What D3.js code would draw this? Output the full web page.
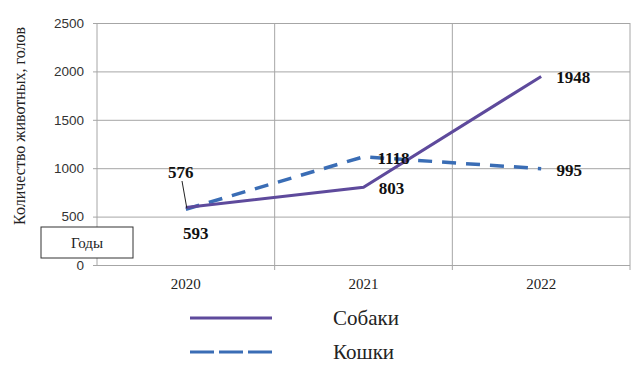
<!DOCTYPE html>
<html>
<head>
<meta charset="utf-8">
<script src="https://cdn.jsdelivr.net/npm/d3@7"></script>
<style>
  body { margin: 0; background: #fff; }
  svg { display: block; }
</style>
</head>
<body>
<script>
// data
var years = ["2020", "2021", "2022"];
var dogs = [593, 803, 1948];
var cats = [576, 1118, 995];
var yTicks = [0, 500, 1000, 1500, 2000, 2500];

var W = 643, H = 373;
var plotL = 97, plotR = 630, plotT = 23, plotB = 265;

var svg = d3.select("body").append("svg")
  .attr("width", W)
  .attr("height", H);

var x = d3.scaleBand().domain(years).range([plotL, plotR]).padding(0);
var y = d3.scaleLinear().domain([0, 2500]).range([plotB, plotT]);
var cx = function(d) { return x(d) + x.bandwidth() / 2; };

var grid = "#a6a6a6";
var serif = "'Liberation Serif', 'Times New Roman', serif";

// horizontal grid + y axis
svg.append("g")
  .attr("transform", "translate(" + plotL + ",0)")
  .call(d3.axisLeft(y).tickValues(yTicks).tickFormat(d3.format("d"))
    .tickSize(-(plotR - plotL)).tickSizeOuter(0).tickPadding(13))
  .call(function(g) {
    g.select(".domain").remove();
    g.selectAll(".tick line").attr("stroke", grid).attr("x1", -4);
    g.selectAll(".tick text")
      .attr("fill", "#333")
      .style("font-family", "'Liberation Sans', Arial, sans-serif")
      .style("font-size", "13.5px");
  });

// vertical grid lines at band edges
var edges = years.map(function(d) { return x(d); }).concat([plotR]);
svg.append("g").selectAll("line")
  .data(edges)
  .enter().append("line")
    .attr("x1", function(d) { return d; })
    .attr("x2", function(d) { return d; })
    .attr("y1", plotT)
    .attr("y2", function(d, i) { return i == 0 ? plotB : plotB + 5; })
    .attr("stroke", grid);

// x labels
svg.append("g").selectAll("text")
  .data(years)
  .enter().append("text")
    .attr("x", cx)
    .attr("y", 289)
    .attr("text-anchor", "middle")
    .attr("fill", "#222")
    .style("font-family", serif)
    .style("font-size", "15px")
    .text(function(d) { return d; });

// y title
svg.append("text")
  .attr("transform", "translate(25,126) rotate(-90)")
  .attr("text-anchor", "middle")
  .attr("fill", "#222")
  .style("font-family", serif)
  .style("font-size", "16px")
  .text("Количество животных, голов");

var line = d3.line()
  .x(function(d, i) { return cx(years[i]); })
  .y(function(d) { return y(d); });

var purple = "#5e4a9c", blue = "#3a6db5";

svg.append("path")
  .datum(cats)
  .attr("d", line)
  .attr("fill", "none")
  .attr("stroke", blue)
  .attr("stroke-width", 3.5)
  .attr("stroke-dasharray", "14,10");

svg.append("path")
  .datum(dogs)
  .attr("d", line)
  .attr("fill", "none")
  .attr("stroke", purple)
  .attr("stroke-width", 3);

// "Годы" box
svg.append("rect")
  .attr("x", 41).attr("y", 227)
  .attr("width", 92).attr("height", 31)
  .attr("fill", "#fff")
  .attr("stroke", "#333");
svg.append("text")
  .attr("x", 87).attr("y", 248)
  .attr("text-anchor", "middle")
  .attr("fill", "#222")
  .style("font-family", serif)
  .style("font-size", "15px")
  .text("Годы");

// value labels
var lblStyle = function(s) {
  s.style("font-family", serif)
   .style("font-size", "17px")
   .style("font-weight", "bold")
   .attr("fill", "#111")
   .attr("text-anchor", "middle");
};
// leader line for 576
svg.append("line")
  .attr("x1", 182).attr("y1", 181)
  .attr("x2", cx(years[0]) + 1).attr("y2", y(cats[0]) - 1)
  .attr("stroke", "#222");

var dogOff = [[10, 31], [28, 7], [32, 7]];
var catOff = [[-5, -31], [30, 7], [28, 7]];
svg.append("g").selectAll("text")
  .data(dogs).enter().append("text")
    .call(lblStyle)
    .attr("x", function(d, i) { return cx(years[i]) + dogOff[i][0]; })
    .attr("y", function(d, i) { return y(d) + dogOff[i][1]; })
    .text(function(d) { return d; });
svg.append("g").selectAll("text")
  .data(cats).enter().append("text")
    .call(lblStyle)
    .attr("x", function(d, i) { return cx(years[i]) + catOff[i][0]; })
    .attr("y", function(d, i) { return y(d) + catOff[i][1]; })
    .text(function(d) { return d; });

// legend
var legend = [
  { name: "Собаки", color: purple, dash: null, y: 318 },
  { name: "Кошки", color: blue, dash: "24,5", y: 352 }
];
var lg = svg.append("g").selectAll("g").data(legend).enter().append("g");
lg.append("line")
  .attr("x1", 190).attr("x2", 272)
  .attr("y1", function(d) { return d.y; })
  .attr("y2", function(d) { return d.y; })
  .attr("stroke", function(d) { return d.color; })
  .attr("stroke-width", 3)
  .attr("stroke-dasharray", function(d) { return d.dash; });
lg.append("text")
  .attr("x", 333)
  .attr("y", function(d) { return d.y + 7; })
  .style("font-family", serif)
  .style("font-size", "21px")
  .attr("fill", "#222")
  .text(function(d) { return d.name; });
</script>
</body>
</html>
